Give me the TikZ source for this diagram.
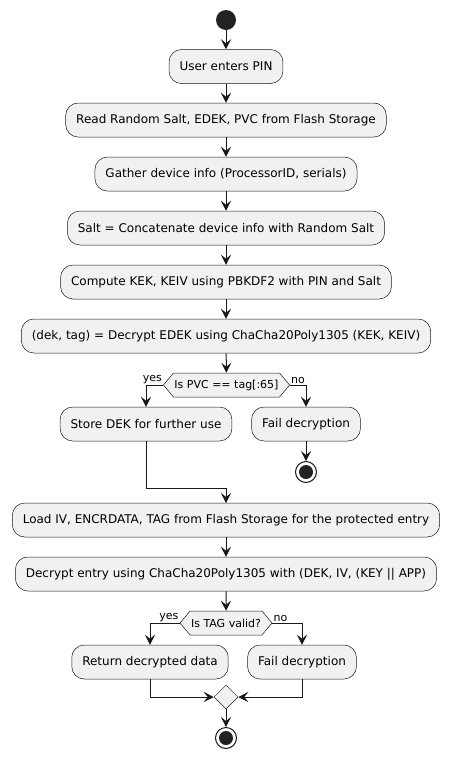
\documentclass[tikz,border=0pt]{standalone}
\usepackage{fontspec}
\setmainfont{DejaVu Sans}
\usepackage{tikz}
\usetikzlibrary{calc}
\usetikzlibrary{shapes.geometric, shapes.symbols, arrows.meta, positioning}

\definecolor{actfill}{HTML}{F1F1F1}
\definecolor{actline}{HTML}{181818}
\definecolor{dotfill}{HTML}{222222}

\begin{document}
\begin{tikzpicture}[x=1pt, y=-1pt,
    font=\fontsize{12}{14}\selectfont,
    action/.style={draw=actline, line width=0.5pt, fill=actfill, rounded corners=12.5pt,
        minimum height=34pt, inner xsep=10.5pt},
    check/.style={draw=actline, line width=0.5pt, fill=actfill, signal, signal to=west and east,
        signal pointer angle=100, minimum height=24pt, inner xsep=1pt, inner ysep=2pt,
        font=\fontsize{11}{13}\selectfont},
    merger/.style={draw=actline, line width=0.5pt, fill=actfill, diamond, minimum size=24pt, inner sep=0pt},
    startdot/.style={circle, fill=dotfill, minimum size=20pt, inner sep=0pt},
    stopdot/.style={circle, draw=actline, line width=1pt, fill=white, minimum size=21pt, inner sep=0pt,
        path picture={\fill[dotfill] (path picture bounding box.center) circle (7pt);}},
    flow/.style={draw=actline, line width=1pt, -{Stealth[length=10pt, width=10pt, inset=4pt]}},
    branch/.style={font=\fontsize{11}{13}\selectfont, inner sep=1pt}]

\useasboundingbox (0,0) rectangle (451,761);

% Start
\node[startdot] (start) at (226,20) {};

% Unlock the data encryption key
\node[action] (pin) at (226,66.5) {User enters PIN};
\node[action] (readflash) at (226,120) {Read Random Salt, EDEK, PVC from Flash Storage};
\node[action] (gather) at (226,174) {Gather device info (ProcessorID, serials)};
\node[action] (saltcat) at (226,228) {Salt = Concatenate device info with Random Salt};
\node[action] (kek) at (226,282) {Compute KEK, KEIV using PBKDF2 with PIN and Salt};
\node[action] (dekdec) at (226,336) {(dek, tag) = Decrypt EDEK using ChaCha20Poly1305 (KEK, KEIV)};

\draw[flow] (start) -- (pin);
\draw[flow] (pin) -- (readflash);
\draw[flow] (readflash) -- (gather);
\draw[flow] (gather) -- (saltcat);
\draw[flow] (saltcat) -- (kek);
\draw[flow] (kek) -- (dekdec);

% Check the PVC
\node[check] (pvccheck) at (226.5,385) {Is PVC == tag[:65]};
\node[action] (storedek) at (146,424) {Store DEK for further use};
\node[action] (faildek) at (306,424) {Fail decryption};
\node[stopdot] (stopdek) at (306,472) {};
\coordinate (joindek) at (226,488);

\draw[flow] (dekdec) -- (pvccheck);
\draw[flow] (pvccheck.west) -| (storedek.north);
\draw[flow] (pvccheck.east) -| (faildek.north);
\node[branch, above left] at (pvccheck.west) {yes};
\node[branch, above right] at (pvccheck.east) {no};
\draw[flow] (faildek) -- (stopdek);
\draw[flow] (storedek.south) |- (joindek) -- (joindek |- 0,503);

% Decrypt the protected entry
\node[action] (loadentry) at (226,520) {Load IV, ENCRDATA, TAG from Flash Storage for the protected entry};
\node[action] (decentry) at (226,574) {Decrypt entry using ChaCha20Poly1305 with (DEK, IV, (KEY || APP)};
\draw[flow] (loadentry) -- (decentry);

% Check the TAG
\node[check] (tagcheck) at (226,623) {Is TAG valid?};
\node[action] (retdata) at (150,662) {Return decrypted data};
\node[action] (failtag) at (302,662) {Fail decryption};
\node[merger] (merge) at (226,697) {};
\node[stopdot] (stopend) at (226,738) {};

\draw[flow] (decentry) -- (tagcheck);
\draw[flow] (tagcheck.west) -| (retdata.north);
\draw[flow] (tagcheck.east) -| (failtag.north);
\node[branch, above left] at (tagcheck.west) {yes};
\node[branch, above right] at (tagcheck.east) {no};
\draw[flow] (retdata.south) |- (merge.west);
\draw[flow] (failtag.south) |- (merge.east);
\draw[flow] (merge) -- (stopend);

\end{tikzpicture}
\end{document}
